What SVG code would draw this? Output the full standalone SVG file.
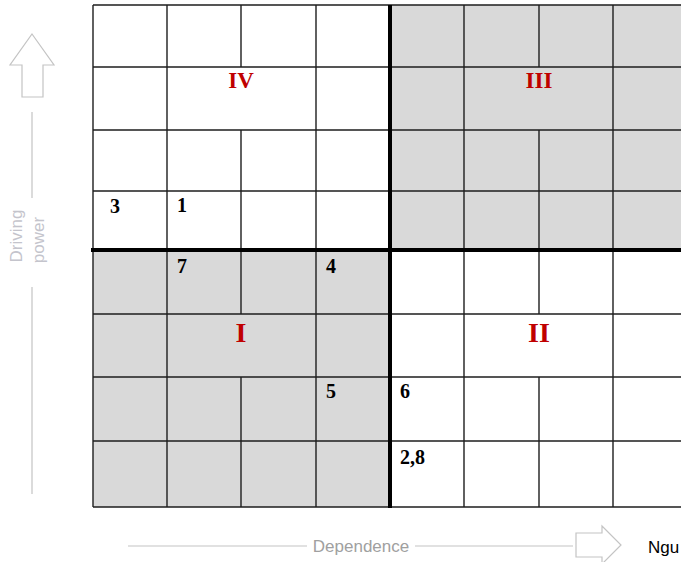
<svg xmlns="http://www.w3.org/2000/svg" width="681" height="562" viewBox="0 0 681 562">
<style>
.grid{stroke:#1e1e1e;stroke-width:1.4;fill:none}
.thick{stroke:#000;stroke-width:4;fill:none}
.quad{fill:#d9d9d9}
.roman{font-family:"Liberation Serif",serif;font-weight:bold;fill:#c00000;text-anchor:middle}
.num{font-family:"Liberation Serif",serif;font-weight:bold;font-size:20px;fill:#000}
.axis{stroke:#c4c4c4;stroke-width:1.2;fill:none}
.axistxt{font-family:"Liberation Sans",Arial,sans-serif;font-size:17px}
</style>
<rect x="0" y="0" width="681" height="562" fill="#fff"/>
<g id="quadrants">
<rect class="quad" x="390" y="5" width="291" height="245"/>
<rect class="quad" x="93" y="250" width="297" height="257"/>
</g>
<g id="grid">
<path class="grid" d="M93 5H681M93 67H681M93 130H681M93 191H681M93 314H681M93 377H681M93 441H681M93 507H390M390 507H681"/>
<path class="grid" d="M93 5V507M167 5V507M316 5V507M464 5V507M613 5V507M241 5V67M241 130V314M241 377V507M539 5V67M539 130V314M539 377V507"/>
<path class="thick" d="M390 5V508M91 250H681"/>
</g>
<g id="labels">
<text class="roman" x="241" y="88" font-size="23">IV</text>
<text class="roman" x="539" y="88" font-size="23">III</text>
<text class="roman" x="241" y="342" font-size="28">I</text>
<text class="roman" x="539" y="342" font-size="28">II</text>
</g>
<g id="elements">
<text class="num" x="110" y="213">3</text>
<text class="num" x="177" y="212">1</text>
<text class="num" x="177" y="273">7</text>
<text class="num" x="326" y="273">4</text>
<text class="num" x="326" y="398">5</text>
<text class="num" x="400" y="398">6</text>
<text class="num" x="400" y="464">2,8</text>
</g>
<g id="y-axis">
<path class="axis" d="M32 34L54 65H43V97H22V65H10Z"/>
<path class="axis" d="M32 112V198M32 287V494"/>
<text class="axistxt" fill="#c4c4cc" transform="translate(22,236) rotate(-90)" text-anchor="middle">Driving</text>
<text class="axistxt" fill="#c4c4cc" transform="translate(44,240) rotate(-90)" text-anchor="middle">power</text>
</g>
<g id="x-axis">
<path class="axis" d="M128 546H307M415 546H573"/>
<text class="axistxt" fill="#a0a0a0" x="361" y="552" text-anchor="middle">Dependence</text>
<path class="axis" d="M576 533H602V526L621 545L602 564V557H576Z"/>
<text class="axistxt" fill="#000" x="648" y="553" font-size="16">Ngu</text>
</g>
</svg>
